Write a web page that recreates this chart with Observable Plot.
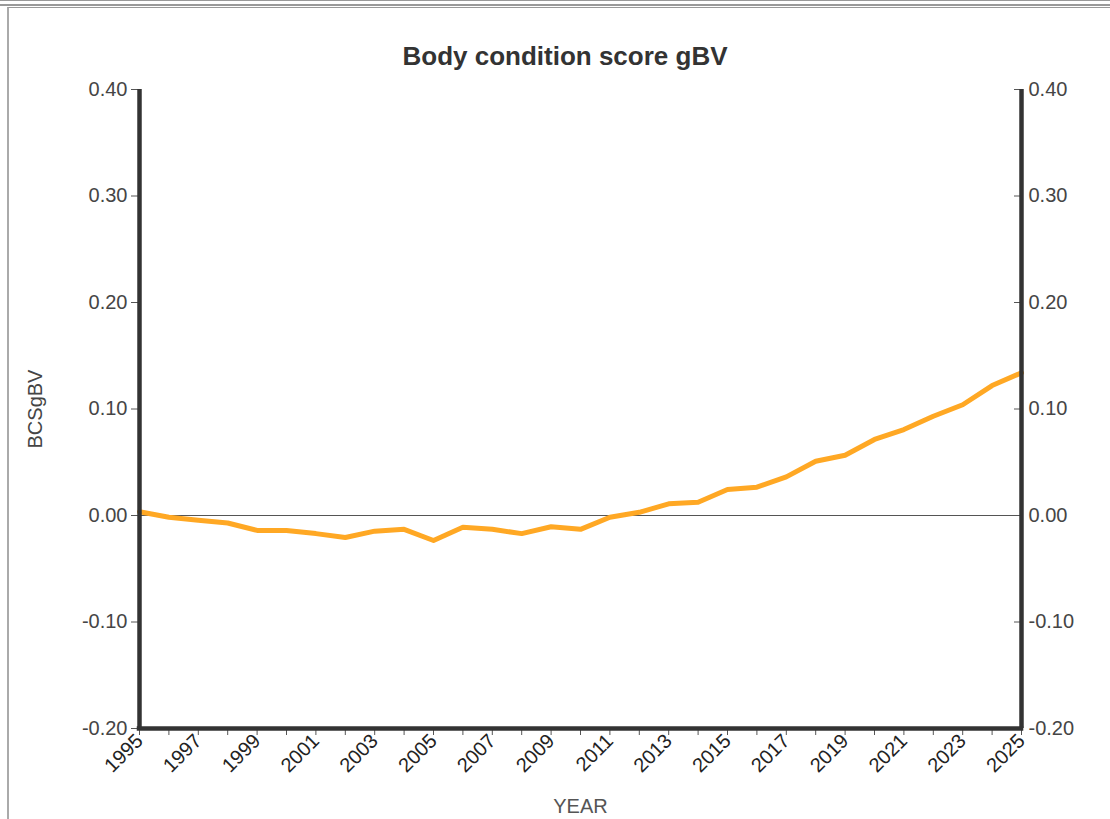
<!DOCTYPE html>
<html>
<head>
<meta charset="utf-8">
<script src="https://cdn.jsdelivr.net/npm/d3@7"></script>
<script src="https://cdn.jsdelivr.net/npm/@observablehq/plot@0.6"></script>
<style>
  body { margin: 0; background: #fff; font-family: "Liberation Sans", Arial, sans-serif; }
  #wrap { position: relative; width: 1110px; height: 819px; overflow: hidden; background: #fff; }
  #topbar { position: absolute; left: 0; top: 0; width: 1110px; height: 3px; border-top: 1px solid #999; border-bottom: 2px solid #999; }
  #box { position: absolute; left: 7px; top: 7px; width: 1200px; height: 900px; border-left: 2px solid #aaa; border-top: 1px solid #999; }
  #title { position: absolute; left: 565px; top: 41px; transform: translateX(-50%); font-weight: bold; font-size: 26px; color: #333; white-space: nowrap; }
  #chart { position: absolute; left: 0; top: 0; }
</style>
</head>
<body>
<div id="wrap">
  <div id="topbar"></div>
  <div id="box"></div>
  <div id="chart"></div>
  <div id="title">Body condition score gBV</div>
</div>
<script>
const years = [1995,1996,1997,1998,1999,2000,2001,2002,2003,2004,2005,2006,2007,2008,2009,2010,
               2011,2012,2013,2014,2015,2016,2017,2018,2019,2020,2021,2022,2023,2024,2025];
const bcsgbv = [0.0035,-0.0016,-0.0044,-0.007,-0.014,-0.014,-0.017,-0.0207,-0.0147,-0.013,-0.0235,
                -0.011,-0.013,-0.017,-0.0106,-0.013,-0.0016,0.003,0.011,0.0125,0.0244,0.0266,0.0363,
                0.051,0.0566,0.0714,0.0807,0.0932,0.104,0.122,0.134];
const yTicks = [-0.2,-0.1,0,0.1,0.2,0.3,0.4];
const title = "Body condition score gBV";
const xLabel = "YEAR";
const yLabel = "BCSgBV";

const data = years.map((year, i) => ({year, value: bcsgbv[i]}));
const fmtY = d => d.toFixed(2);

const chart = Plot.plot({
  width: 1110,
  height: 819,
  marginLeft: 139,
  marginRight: 89,
  marginTop: 89,
  marginBottom: 91,
  style: {fontFamily: "'Liberation Sans', Arial, sans-serif", fontSize: "20px", background: "transparent", overflow: "visible"},
  x: {domain: [1995, 2025]},
  y: {domain: [-0.2, 0.4]},
  marks: [
    Plot.ruleY([0], {stroke: "#555", strokeWidth: 1.2}),
    Plot.lineY(data, {x: "year", y: "value", stroke: "#ffa824", strokeWidth: 5, strokeLinejoin: "round", strokeLinecap: "round"}),
    Plot.axisY({anchor: "left", ticks: yTicks, tickFormat: fmtY, tickSize: 8, tickPadding: 4, fill: "#454545", stroke: "#555",
                label: yLabel, labelAnchor: "center", labelOffset: 112, labelArrow: "none"}),
    Plot.axisY({anchor: "right", ticks: yTicks, tickFormat: fmtY, tickSize: -8, tickPadding: 15, fill: "#454545", stroke: "#555", label: null}),
    Plot.axisX({ticks: years, tickFormat: d => (d % 2 ? String(d) : ""), tickRotate: -45, tickSize: 7, tickPadding: 2,
                fill: "#222", stroke: "#555", label: null}),
    Plot.axisX({ticks: [], label: xLabel, labelAnchor: "center", labelOffset: 84, labelArrow: "none", fill: "#555"}),
    Plot.ruleX([1995, 2025], {stroke: "#333", strokeWidth: 4.5}),
    Plot.ruleY([-0.2], {stroke: "#333", strokeWidth: 4.5, strokeLinecap: "square"})
  ]
});
document.getElementById("chart").appendChild(chart);
</script>
</body>
</html>
